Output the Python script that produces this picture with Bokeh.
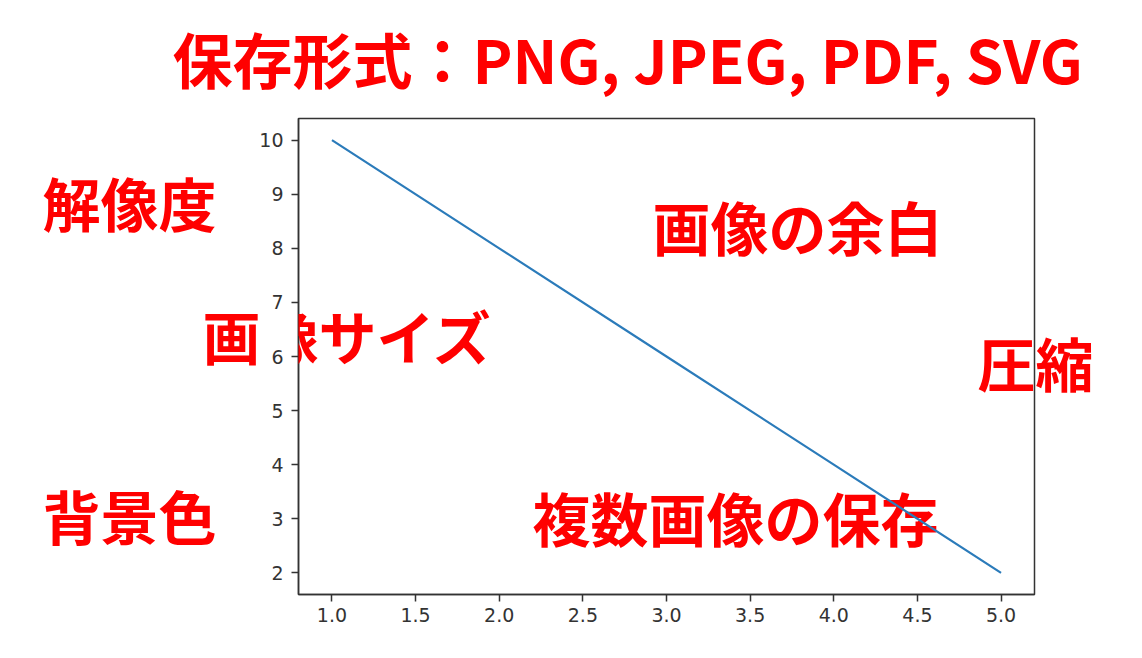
from bokeh.plotting import figure
from bokeh.models import Range1d, FixedTicker, Label, CustomJSTickFormatter
from bokeh.embed import file_html
from bokeh.resources import INLINE

# data
xs = [1, 2, 3, 4, 5]
ys = [10, 8, 6, 4, 2]
x_ticks = [1.0, 1.5, 2.0, 2.5, 3.0, 3.5, 4.0, 4.5, 5.0]
y_ticks = [2, 3, 4, 5, 6, 7, 8, 9, 10]
title_text = "保存形式：PNG, JPEG, PDF, SVG"
left_notes = "解像度\n\n\n\n背景色"
size_note = ["画", "像サイズ"]
margin_note = "画像の余白"
compress_note = ["圧", "縮"]
multi_note = "複数画像の保存"

W, H = 1140, 656
FL, FR, FT, FB = 298, 1034, 118, 594  # frame edges in figure pixels
X0, X1 = 0.8, 5.2
Y0, Y1 = 1.6, 10.4
FS = 58  # note font size in px

p = figure(width=W, height=H, output_backend="svg", toolbar_location=None,
           x_range=Range1d(X0, X1), y_range=Range1d(Y0, Y1),
           min_border_left=FL, min_border_right=W - FR,
           min_border_top=FT, min_border_bottom=H - FB)
p.xgrid.visible = False
p.ygrid.visible = False
p.outline_line_color = "#333333"
p.outline_line_width = 1.5
p.background_fill_color = "white"
p.border_fill_color = "white"

for ax in (p.xaxis[0], p.yaxis[0]):
    ax.axis_line_color = "#333333"
    ax.axis_line_width = 1.5
    ax.major_tick_line_color = "#333333"
    ax.major_tick_line_width = 1.5
    ax.major_tick_out = 7
    ax.major_tick_in = 0
    ax.minor_tick_line_color = None
    ax.major_label_text_font = "DejaVu Sans"
    ax.major_label_text_font_size = "19px"
    ax.major_label_text_color = "#333333"

p.xaxis.ticker = FixedTicker(ticks=x_ticks)
p.yaxis.ticker = FixedTicker(ticks=y_ticks)
p.xaxis.formatter = CustomJSTickFormatter(code="return tick.toFixed(1);")
p.yaxis.formatter = CustomJSTickFormatter(code="return tick.toFixed(0);")
p.xaxis.major_label_standoff = 6
p.yaxis.major_label_standoff = 8


def add_label(text, px, py, size, place, line_height=1.2):
    lab = Label(x=px, y=py, x_units="canvas", y_units="canvas", text=text,
                text_font="Noto Sans CJK JP",
                text_font_style="bold", text_font_size=f"{size}px",
                text_color="#ff0000", text_baseline="middle",
                text_align="left", text_line_height=line_height)
    if place == "center":
        p.add_layout(lab)
    else:
        p.add_layout(lab, place)


# (left edge, vertical centre) in canvas pixels; panel that holds each text
add_label(title_text, 172, 57, 60, "above")
# 解像度 (centre 202) and 背景色 (centre 514) as one block: 4 line steps of 78px
add_label(left_notes, 42, 358, FS, "left", line_height=78 / (1.448 * FS))
add_label(size_note[0], 202, 334, FS, "left")
add_label(size_note[1], 202 + FS, 334, FS, "center")
add_label(margin_note, 652, 225, FS, "center")
add_label(compress_note[0], 977, 361, FS, "center")
add_label(compress_note[1], 977 + FS, 361, FS, "right")
add_label(multi_note, 532, 516, FS, "center")

p.line(xs, ys, line_color="#2b7bba", line_width=2.2, level="overlay")

open("out.html", "w").write(file_html(p, INLINE))
